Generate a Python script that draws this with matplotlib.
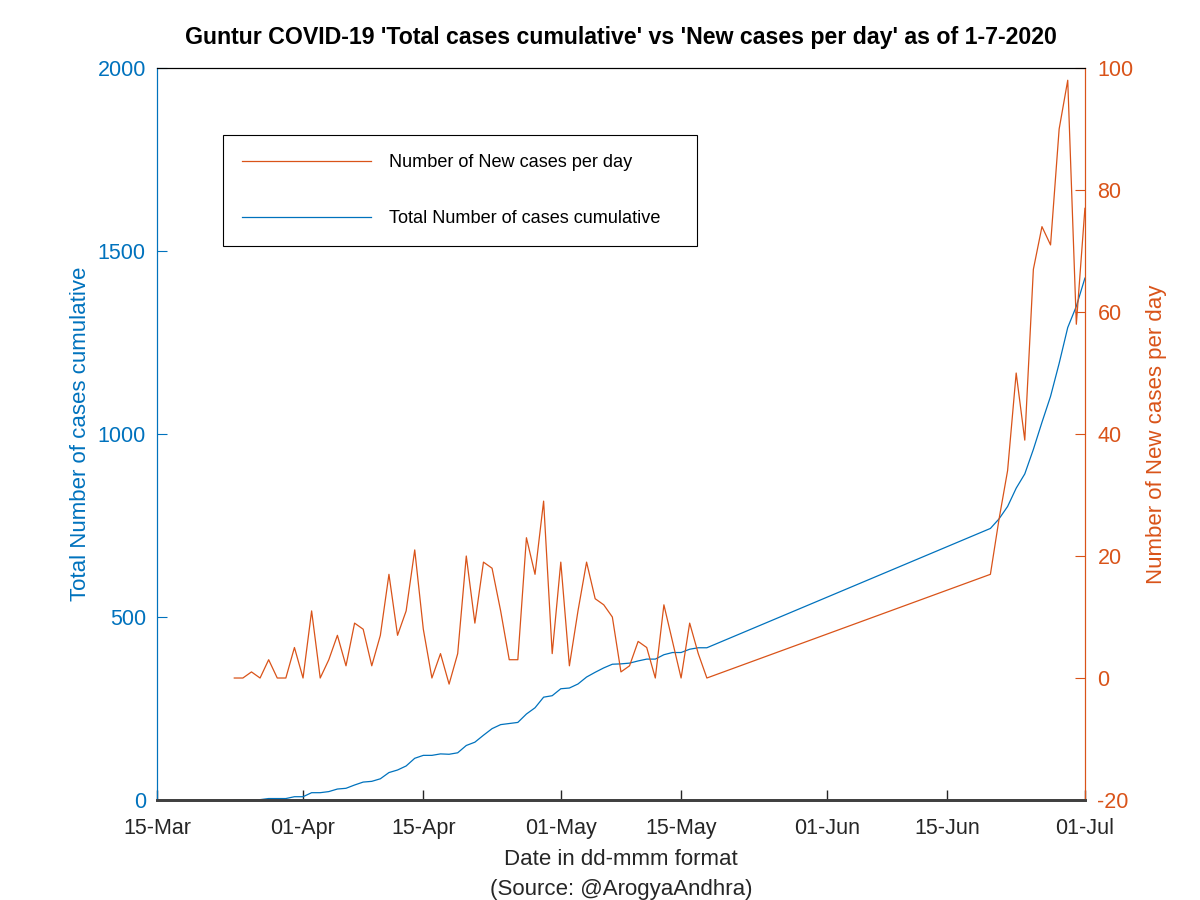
import pandas as pd
import matplotlib
matplotlib.use("Agg")
import matplotlib.pyplot as plt
import matplotlib.dates as mdates

plt.rcParams['font.family'] = ['Liberation Sans', 'DejaVu Sans']
plt.rcParams['axes.unicode_minus'] = False

# dates with data (gap between 18-May and 20-Jun is just a straight line)
dates = list(pd.date_range("2020-03-24", "2020-05-18")) + \
        list(pd.date_range("2020-06-20", "2020-07-01"))

new_cases = [0, 0, 1, 0, 3, 0, 0, 5,
             0, 11, 0, 3, 7, 2, 9, 8, 2, 7, 17, 7, 11, 21, 8, 0, 4, -1, 4, 20,
             9, 19, 18, 11, 3, 3, 23, 17, 29, 4,
             19, 2, 11, 19, 13, 12, 10, 1, 2, 6, 5, 0, 12, 6, 0, 9, 4, 0,
             17, 26, 34, 50, 39, 67, 74, 71, 90, 98, 58, 77]

total_cases = [0, 0, 1, 1, 4, 4, 4, 9,
               9, 20, 20, 23, 30, 32, 41, 49, 51, 58, 75, 82, 93, 114, 122, 122,
               126, 125, 129, 149, 158, 177, 195, 206, 209, 212, 235, 252, 281, 285,
               304, 306, 317, 336, 349, 361, 371, 372, 374, 380, 385, 385, 397, 403,
               403, 412, 416, 416,
               742, 768, 802, 852, 891, 958, 1032, 1103, 1193, 1291, 1349, 1426]

xticks = ["2020-03-15", "2020-04-01", "2020-04-15", "2020-05-01",
          "2020-05-15", "2020-06-01", "2020-06-15", "2020-07-01"]

blue = '#0072BD'
orange = '#D95319'

fig = plt.figure(figsize=(12, 9), dpi=100)
ax = fig.add_axes([0.1308, 0.1111, 0.7733, 0.8133])
ax2 = ax.twinx()

l1, = ax.plot(dates, total_cases, color=blue, lw=0.9)
l2, = ax2.plot(dates, new_cases, color=orange, lw=0.9)

ax.set_xlim(pd.Timestamp("2020-03-15"), pd.Timestamp("2020-07-01"))
ax.set_xticks(pd.to_datetime(xticks))
ax.xaxis.set_major_formatter(mdates.DateFormatter('%d-%b'))
ax.set_ylim(0, 2000)
ax.set_yticks(range(0, 2001, 500))
ax2.set_ylim(-20, 100)
ax2.set_yticks(range(-20, 101, 20))

fs = 15.5
ax.tick_params(axis='x', direction='in', length=7, width=1, labelsize=fs,
               colors='#262626', pad=13)
ax.tick_params(axis='y', direction='in', length=7, width=0.8, labelsize=fs,
               colors=blue, pad=8)
ax2.tick_params(axis='y', direction='in', length=7, width=0.8, labelsize=fs,
                colors=orange, pad=9)

for a in (ax, ax2):
    a.spines['top'].set_color('black')
    a.spines['top'].set_linewidth(0.8)
    a.spines['bottom'].set_color('#404040')
    a.spines['bottom'].set_linewidth(2)
    a.spines['left'].set_color(blue)
    a.spines['left'].set_linewidth(0.8)
    a.spines['right'].set_color(orange)
    a.spines['right'].set_linewidth(0.8)

ax.set_ylabel('Total Number of cases cumulative', color=blue, fontsize=16, labelpad=4.5)
ax2.set_ylabel('Number of New cases per day', color=orange, fontsize=16, labelpad=9)
ax.set_xlabel('Date in dd-mmm format\n(Source: @ArogyaAndhra)', color='#262626',
              fontsize=16, labelpad=7, linespacing=1.6)
ax.set_title("Guntur COVID-19 'Total cases cumulative' vs 'New cases per day' as of 1-7-2020",
             fontsize=16.7, fontweight='bold', pad=17)

leg = ax2.legend([l2, l1], ['Number of New cases per day', 'Total Number of cases cumulative'],
                 loc='upper left', bbox_to_anchor=(0.0711, 0.761, 0.5108, 0.1475),
                 mode='expand', borderaxespad=0,
                 fontsize=13.1, handlelength=7.1, handletextpad=1.0, labelspacing=2.15,
                 borderpad=1.05, fancybox=False, framealpha=1, edgecolor='black')
leg.get_frame().set_linewidth(0.8)

fig.savefig('out.png', dpi=100)
